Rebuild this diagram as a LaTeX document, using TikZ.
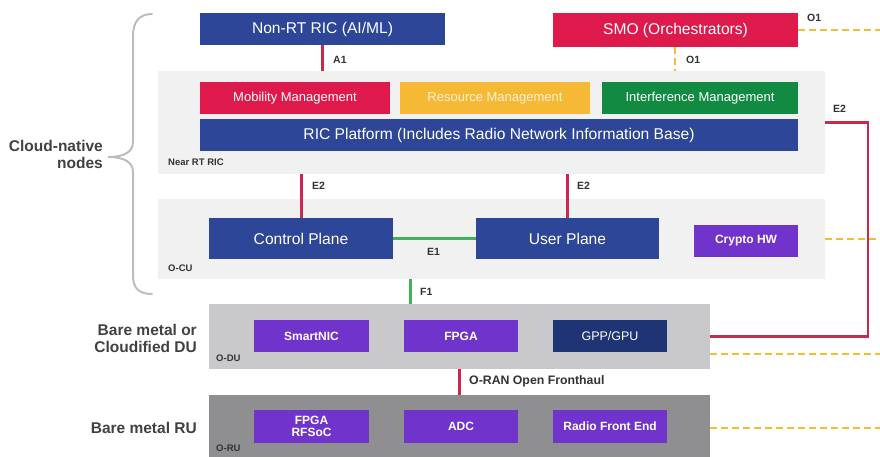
\documentclass[tikz,border=0pt]{standalone}
\usepackage{fontspec}
\setmainfont{Liberation Sans}
\definecolor{oblue}{HTML}{2E4697}
\definecolor{ored}{HTML}{DE1A4C}
\definecolor{oyellow}{HTML}{F5B935}
\definecolor{ogreen}{HTML}{128A42}
\definecolor{opurple}{HTML}{7033CC}
\definecolor{onavy}{HTML}{1E3474}
\definecolor{panellight}{HTML}{F1F1F2}
\definecolor{paneldu}{HTML}{C9C9CB}
\definecolor{panelru}{HTML}{8F8F92}
\definecolor{linkred}{HTML}{C9284F}
\definecolor{linkgreen}{HTML}{3DB35A}
\definecolor{linkyellow}{HTML}{F0C030}
\definecolor{labelgrey}{HTML}{333333}
\definecolor{sidegrey}{HTML}{414141}
\definecolor{bracegrey}{HTML}{BDBDBD}
\begin{document}
\begin{tikzpicture}[x=1pt,y=-1pt,
  box/.style={draw=none, inner sep=0pt, text=white, align=center},
  panel/.style={draw=none, inner sep=0pt},
  lbl/.style={font=\fontsize{10.5}{12}\selectfont\bfseries, text=labelgrey, inner sep=0pt, anchor=west},
  side/.style={font=\fontsize{15.5}{17.5}\selectfont\bfseries, text=sidegrey, align=right, anchor=east, inner sep=0pt},
  redlink/.style={draw=linkred, line width=3pt},
  greenlink/.style={draw=linkgreen, line width=3pt},
  o1link/.style={draw=linkyellow, line width=2pt, dash pattern=on 7pt off 4pt},
  bigtxt/.style={font=\fontsize{15.6}{17}\selectfont},
  midtxt/.style={font=\fontsize{13}{15}\selectfont},
  hwtxt/.style={font=\fontsize{12}{13.5}\selectfont\bfseries}
]
\useasboundingbox (0,0) rectangle (880,456);

% panels
\node[panel, fill=panellight, minimum width=667pt, minimum height=103pt] (ric) at (491.5,122.5) {};
\node[panel, fill=panellight, minimum width=667pt, minimum height=80pt] (cu) at (491.5,239) {};
\node[panel, fill=paneldu, minimum width=501pt, minimum height=65pt] (du) at (459.5,336.5) {};
\node[panel, fill=panelru, minimum width=501pt, minimum height=66pt] (ru) at (459.5,428) {};

% top level boxes
\node[box, fill=oblue, minimum width=245pt, minimum height=32pt, bigtxt] (nrt) at (322.5,29) {Non-RT RIC (AI/ML)};
\node[box, fill=ored, minimum width=245pt, minimum height=34pt, bigtxt] (smo) at (675.5,30) {SMO (Orchestrators)};

% near-RT RIC contents
\node[box, fill=ored, minimum width=190pt, minimum height=32pt, midtxt] (mob) at (295,98) {Mobility Management};
\node[box, fill=oyellow, minimum width=190pt, minimum height=32pt, midtxt, text=white!80!oyellow] (res) at (495,98) {Resource Management};
\node[box, fill=ogreen, minimum width=196pt, minimum height=32pt, midtxt] (intf) at (700,98) {Interference Management};
\node[box, fill=oblue, minimum width=598pt, minimum height=32pt, bigtxt] (plat) at (499,135) {RIC Platform (Includes Radio Network Information Base)};

% O-CU contents
\node[box, fill=oblue, minimum width=184pt, minimum height=41pt, bigtxt] (cp) at (301,238.5) {Control Plane};
\node[box, fill=oblue, minimum width=183pt, minimum height=41pt, bigtxt] (up) at (567.5,238.5) {User Plane};
\node[box, fill=opurple, minimum width=104pt, minimum height=32pt, hwtxt] (crypto) at (746,241) {Crypto HW};

% O-DU contents
\node[box, fill=opurple, minimum width=115pt, minimum height=32pt, hwtxt] (nic) at (311.5,336) {SmartNIC};
\node[box, fill=opurple, minimum width=114pt, minimum height=32pt, hwtxt] (fpga) at (461,336) {FPGA};
\node[box, fill=onavy, minimum width=114pt, minimum height=32pt, font=\fontsize{12.5}{14}\selectfont] (gpp) at (610,336) {GPP/GPU};

% O-RU contents
\node[box, fill=opurple, minimum width=115pt, minimum height=33pt, hwtxt] (rfsoc) at (311.5,426.5) {FPGA\\[-1pt]RFSoC};
\node[box, fill=opurple, minimum width=114pt, minimum height=33pt, hwtxt] (adc) at (461,426.5) {ADC};
\node[box, fill=opurple, minimum width=114pt, minimum height=33pt, hwtxt] (rfe) at (610,426.5) {Radio Front End};

% panel captions
\node[lbl, font=\fontsize{9.5}{11}\selectfont\bfseries] (nrtlbl) at (168,162) {Near RT RIC};
\node[lbl, font=\fontsize{9.5}{11}\selectfont\bfseries] (culbl) at (168,268) {O-CU};
\node[lbl, font=\fontsize{9.5}{11}\selectfont\bfseries] (dulbl) at (216,358) {O-DU};
\node[lbl, font=\fontsize{9.5}{11}\selectfont\bfseries] (rulbl) at (216,448) {O-RU};

% interface links
\draw[redlink] (nrt.south) -- (nrt.south |- ric.north);
\coordinate (o1x) at (675,0);
\draw[o1link] (smo.south -| o1x) -- (ric.north -| o1x);
\draw[redlink] (cp.north |- ric.south) -- (cp.north);
\draw[redlink] (up.north |- ric.south) -- (up.north);
\draw[greenlink] (cp.east) -- (up.west);
\coordinate (f1x) at (410,0);
\draw[greenlink] (cu.south -| f1x) -- (du.north -| f1x);
\draw[redlink] (du.south) -- (ru.north);
\coordinate (e2x) at (868,0);
\draw[draw=linkred, line width=2.4pt] (ric.east) -- (ric.east -| e2x) |- (du.east);

% O1 management links to the right
\coordinate (edge) at (880,0);
\draw[o1link] (smo.east) -- (smo.east -| edge);
\draw[o1link] (cu.east) -- (cu.east -| edge);
\draw[o1link] ([yshift=-17.5pt]du.east) -- ([yshift=-17.5pt]du.east -| edge);
\draw[o1link] (ru.east) -- (ru.east -| edge);

% interface labels
\node[lbl] (a1lbl) at (333,60) {A1};
\node[lbl] (o1lbl) at (686,60) {O1};
\node[lbl] (o1rlbl) at (807,18) {O1};
\node[lbl] (e2rlbl) at (833,109) {E2};
\node[lbl] (e2clbl) at (312,186) {E2};
\node[lbl] (e2ulbl) at (577,186) {E2};
\node[lbl] (e1lbl) at (427,252) {E1};
\node[lbl] (f1lbl) at (420,292) {F1};
\node[lbl, font=\fontsize{12.3}{14}\selectfont\bfseries] (fhlbl) at (469,381.5) {O-RAN Open Fronthaul};

% side captions
\node[side] (cloud) at (103,154.5) {Cloud-native\\nodes};
\node[side] (dutxt) at (197,338.5) {Bare metal or\\Cloudified DU};
\node[side] (rutxt) at (197,428) {Bare metal RU};

% brace grouping the cloud-native nodes
\draw[bracegrey, line width=2pt, line cap=round]
  (152,14) .. controls (139,14) and (133,22) .. (133,36)
  -- (133,142)
  .. controls (133,152) and (124,157) .. (108,157)
  .. controls (124,157) and (133,162) .. (133,172)
  -- (133,276)
  .. controls (133,288) and (139,294) .. (152,294);
\end{tikzpicture}
\end{document}
